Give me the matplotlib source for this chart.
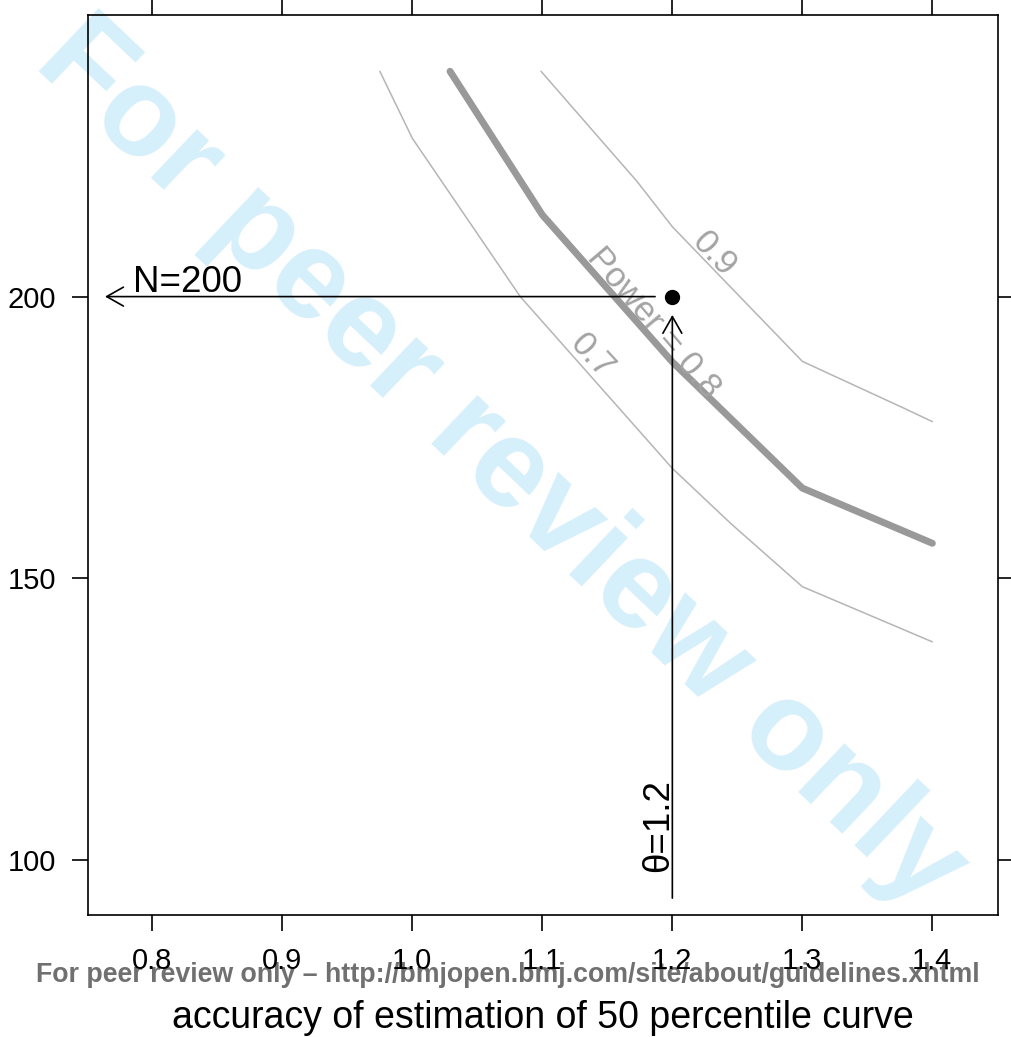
import matplotlib
matplotlib.use("Agg")
import matplotlib.pyplot as plt

# ---- data ----
power_levels = [0.7, 0.8, 0.9]
p07_x = [0.975, 1.0, 1.083, 1.2, 1.245, 1.3, 1.4]
p07_y = [240, 228.1, 200, 169.5, 159.7, 148.5, 138.7]
p08_x = [1.029, 1.1, 1.2, 1.3, 1.4]
p08_y = [240, 214.5, 188.4, 166.0, 156.2]
p09_x = [1.099, 1.173, 1.2, 1.3, 1.378, 1.4]
p09_y = [240, 220.4, 212.4, 188.5, 180.2, 177.8]

design_theta = 1.2
design_n = 200

x_ticks = [0.8, 0.9, 1.0, 1.1, 1.2, 1.3, 1.4]
x_ticklabels = ["0.8", "0.9", "1.0", "1.1", "1.2", "1.3", "1.4"]
y_ticks = [100, 150, 200]
y_ticklabels = ["100", "150", "200"]

contour_labels = ["0.7", "Power = 0.8", "0.9"]

plt.rcParams['font.family'] = ['Liberation Sans', 'DejaVu Sans']

fig = plt.figure(figsize=(10.12, 10.37), dpi=100)
fig.patch.set_facecolor('white')

# watermark behind everything
fig.text(0.495, 0.552, "For peer review only", rotation=-43.5, rotation_mode='anchor',
         ha='center', va='center', fontsize=91, fontweight='bold', color='#D5EFFB', zorder=-5)
fig.text(0.5015, 0.0533, "For peer review only \u2013 http://bmjopen.bmj.com/site/about/guidelines.xhtml",
         ha='center', va='baseline', fontsize=19.3, fontweight='bold', color='#707070', zorder=-5)

ax = fig.add_axes([0.086957, 0.117647, 0.899209, 0.867888])
ax.set_facecolor('none')
ax.set_xlim(0.7505, 1.4505)
ax.set_ylim(90.2, 250.0)

thin_col = '#B5B5B5'
thick_col = '#999999'
ax.plot(p07_x, p07_y, color=thin_col, lw=1.1, solid_capstyle='round')
ax.plot(p09_x, p09_y, color=thin_col, lw=1.1, solid_capstyle='round')
ax.plot(p08_x, p08_y, color=thick_col, lw=5.0, solid_capstyle='round', solid_joinstyle='round')

lab_col = '#A3A3A3'
ax.text(1.138, 189.35, contour_labels[0], rotation=-47, rotation_mode='anchor',
        ha='center', va='center', fontsize=25, color=lab_col)
ax.text(1.1854, 195.4, contour_labels[1], rotation=-49.6, rotation_mode='anchor',
        ha='center', va='center', fontsize=25, color=lab_col)
ax.text(1.2321, 207.6, contour_labels[2], rotation=-47, rotation_mode='anchor',
        ha='center', va='center', fontsize=25, color=lab_col)

# design point and arrows
arrow_kw = dict(arrowstyle='->,head_length=1.2,head_width=0.68', mutation_scale=10,
                lw=1.2, color='black', shrinkA=0, shrinkB=0)
ax.annotate('', xy=(0.7636, design_n), xytext=(1.1867, design_n), arrowprops=arrow_kw)
ax.annotate('', xy=(design_theta, 196.75), xytext=(design_theta, 93.2), arrowprops=arrow_kw)
ax.plot([design_theta], [design_n], 'o', color='black', ms=10)

ax.text(0.7852, 200.9, "N=%d" % design_n, fontsize=26.5, ha='left', va='baseline')
ax.text(1.1969, 97.9, "\u03b8=%.1f" % design_theta, rotation=90, rotation_mode='anchor',
        ha='left', va='baseline', fontsize=26.5)

ax.set_xticks(x_ticks)
ax.set_xticklabels(x_ticklabels)
ax.set_yticks(y_ticks)
ax.set_yticklabels(y_ticklabels)
ax.tick_params(which='both', direction='out', length=11.5, width=1.2, top=True, right=True,
               labeltop=False, labelright=False, labelsize=21, colors='black')
ax.tick_params(axis='x', pad=11.2)
ax.tick_params(axis='y', pad=11.5)
for s in ax.spines.values():
    s.set_linewidth(1.2)
    s.set_color('black')

ax.set_xlabel("accuracy of estimation of 50 percentile curve", fontsize=27)
ax.xaxis.label.set_va('baseline')
ax.xaxis.set_label_coords(0.5, -0.1259)

fig.savefig("out.png", dpi=100)
